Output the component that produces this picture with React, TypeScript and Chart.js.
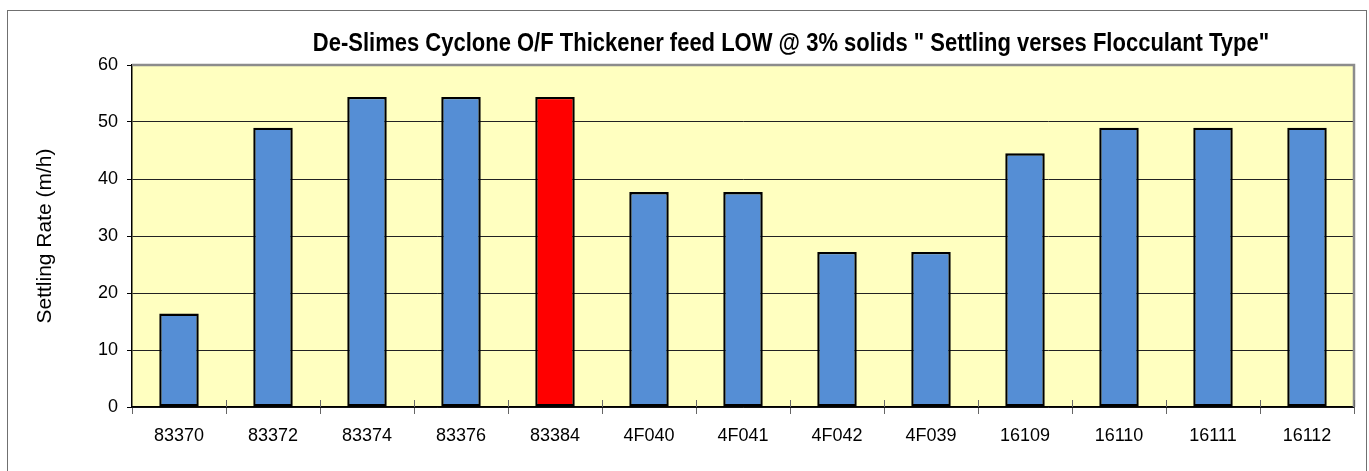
import React, { useEffect, useRef } from 'react';
import { Chart, registerables } from 'chart.js';

Chart.register(...registerables);

const categories = ['83370', '83372', '83374', '83376', '83384', '4F040', '4F041', '4F042', '4F039', '16109', '16110', '16111', '16112'];
const settlingRate = [16.4, 49, 54.4, 54.4, 54.4, 37.7, 37.7, 27.2, 27.2, 44.5, 49, 49, 49];
const highlightedCategory = '83384';
const yMin = 0;
const yMax = 60;
const yStep = 10;
const titleText = 'De-Slimes Cyclone O/F Thickener feed LOW @ 3% solids " Settling verses Flocculant Type"';
const yAxisLabel = 'Settling Rate (m/h)';

const FONT = '"Liberation Sans", Arial, Helvetica, sans-serif';
const BAR_BLUE = '#558ED5';
const BAR_RED = '#FF0000';
const PLOT_BG = '#FFFFC0';

const plotDecor = {
  id: 'plotDecor',
  beforeDraw(chart: any) {
    const { ctx, chartArea } = chart;
    ctx.save();
    ctx.fillStyle = PLOT_BG;
    ctx.fillRect(chartArea.left, chartArea.top, chartArea.right - chartArea.left, chartArea.bottom - chartArea.top);
    ctx.restore();
  },
  beforeDatasetsDraw(chart: any) {
    const { ctx, chartArea } = chart;
    ctx.save();
    ctx.strokeStyle = '#8C8C8C';
    ctx.lineWidth = 2.5;
    ctx.beginPath();
    ctx.moveTo(chartArea.left, chartArea.top);
    ctx.lineTo(chartArea.right, chartArea.top);
    ctx.lineTo(chartArea.right, chartArea.bottom);
    ctx.stroke();
    // inner part of the category tick marks
    const xs = chart.scales.x;
    const n = categories.length;
    const w = (xs.right - xs.left) / n;
    ctx.strokeStyle = '#666';
    ctx.lineWidth = 1;
    ctx.beginPath();
    for (let i = 1; i <= n; i++) {
      const x = Math.round(xs.left + i * w) + 0.5;
      ctx.moveTo(x, chartArea.bottom - 7);
      ctx.lineTo(x, chartArea.bottom);
    }
    ctx.stroke();
    ctx.restore();
  },
  afterDraw(chart: any) {
    const { ctx } = chart;
    ctx.save();
    ctx.fillStyle = '#000';
    ctx.font = `bold 22px ${FONT}`;
    ctx.textAlign = 'center';
    ctx.textBaseline = 'alphabetic';
    ctx.translate(791, 51);
    ctx.scale(1, 1.2);
    ctx.fillText(titleText, 0, 0);
    ctx.restore();
  },
};

export default function App() {
  const canvasRef = useRef<HTMLCanvasElement | null>(null);

  useEffect(() => {
    if (!canvasRef.current) return;
    const chart = new Chart(canvasRef.current, {
      type: 'bar',
      data: {
        labels: categories,
        datasets: [
          {
            data: settlingRate,
            backgroundColor: categories.map((c) => (c === highlightedCategory ? BAR_RED : BAR_BLUE)),
            borderColor: '#000',
            borderWidth: 2.4,
            borderSkipped: false,
            categoryPercentage: 1,
            barPercentage: 0.42,
          },
        ],
      },
      options: {
        responsive: false,
        animation: false,
        events: [],
        layout: { padding: { top: 65, right: 15, left: 0, bottom: 0 } },
        plugins: {
          legend: { display: false },
          title: { display: false },
          tooltip: { enabled: false },
        },
        scales: {
          x: {
            offset: true,
            grid: {
              offset: true,
              drawOnChartArea: false,
              drawTicks: true,
              tickLength: 7,
              tickColor: '#666',
              color: '#666',
            },
            border: { display: true, color: '#000', width: 1.5 },
            ticks: {
              color: '#000',
              font: { family: FONT, size: 18 },
              padding: 11,
              maxRotation: 0,
              autoSkip: false,
            },
            afterFit: (scale: any) => {
              scale.height = 64;
            },
          },
          y: {
            min: yMin,
            max: yMax,
            ticks: {
              stepSize: yStep,
              color: '#000',
              font: { family: FONT, size: 18 },
              padding: 9,
            },
            grid: {
              color: (ctx: any) => (ctx.tick && ctx.tick.value === yMax ? 'rgba(0,0,0,0)' : '#222'),
              lineWidth: 1,
              tickLength: 5,
              tickColor: '#000',
            },
            border: { display: true, color: '#000', width: 1.5 },
            title: {
              display: true,
              text: yAxisLabel,
              color: '#000',
              font: { family: FONT, size: 21, weight: 'normal' },
              padding: { top: 33, bottom: 0 },
            },
            afterFit: (scale: any) => {
              scale.width = 132;
            },
          },
        },
      },
      plugins: [plotDecor],
    });
    return () => chart.destroy();
  }, []);

  return (
    <div style={{ position: 'absolute', left: 0, top: 0, width: 1369, height: 471, background: '#fff', overflow: 'hidden' }}>
      <div
        style={{
          position: 'absolute',
          left: 7,
          top: 10,
          width: 1360,
          height: 470,
          border: '1px solid #707070',
          boxSizing: 'border-box',
          pointerEvents: 'none',
        }}
      />
      <canvas
        ref={canvasRef}
        width={1369}
        height={471}
        style={{ position: 'absolute', left: 0, top: 0, width: 1369, height: 471, display: 'block' }}
      />
    </div>
  );
}
